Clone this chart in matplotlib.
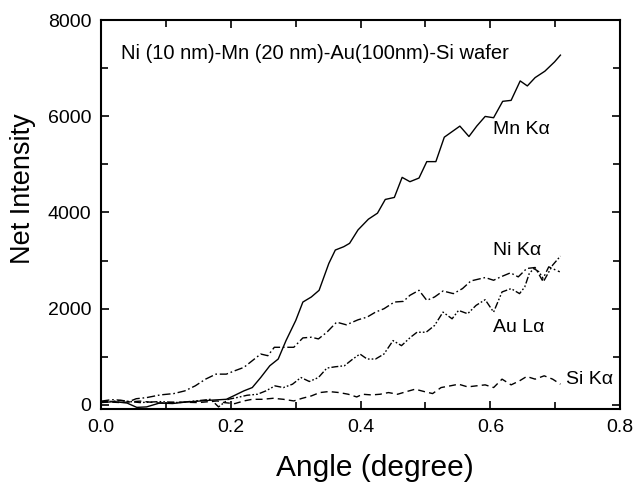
import matplotlib
matplotlib.use('Agg')
from matplotlib import pyplot as plt
from matplotlib.ticker import MultipleLocator

plt.rcParams['font.family'] = ['Liberation Sans', 'DejaVu Sans']

# Mn K-alpha (solid)
mn_x = [0.0, 0.02, 0.04, 0.055, 0.07, 0.09, 0.11, 0.13, 0.15, 0.17, 0.193, 0.204, 0.22,
        0.233, 0.246, 0.26, 0.273, 0.285, 0.3, 0.311, 0.324, 0.336, 0.351, 0.361, 0.374,
        0.383, 0.396, 0.412, 0.426, 0.438, 0.452, 0.464, 0.476, 0.49, 0.502, 0.516, 0.529,
        0.541, 0.553, 0.567, 0.579, 0.592, 0.605, 0.619, 0.632, 0.646, 0.657, 0.669, 0.684,
        0.699, 0.708]
mn_y = [50, 70, 40, -50, -40, 40, 30, 60, 80, 100, 118, 188, 293,
        362, 571, 815, 955, 1338, 1756, 2139, 2244, 2383, 2941, 3220, 3289,
        3359, 3638, 3861, 3986, 4271, 4313, 4730, 4640, 4716, 5057, 5057, 5565,
        5680, 5795, 5579, 5795, 5996, 5969, 6310, 6330, 6734, 6630, 6803, 6936,
        7130, 7270]

# Ni K-alpha (dash-dot)
ni_x = [0.0, 0.016, 0.03, 0.043, 0.054, 0.07, 0.091, 0.112, 0.129, 0.145, 0.161, 0.177,
        0.193, 0.206, 0.22, 0.233, 0.246, 0.257, 0.267, 0.281, 0.297, 0.311, 0.324, 0.335,
        0.348, 0.363, 0.378, 0.396, 0.41, 0.423, 0.436, 0.452, 0.466, 0.476, 0.49, 0.502,
        0.514, 0.527, 0.543, 0.557, 0.57, 0.592, 0.605, 0.616, 0.631, 0.643, 0.656, 0.669,
        0.68, 0.69, 0.699, 0.707]
ni_y = [80, 110, 100, 70, 130, 153, 209, 237, 293, 397, 537, 641,
        641, 711, 781, 920, 1059, 1024, 1199, 1199, 1199, 1394, 1408, 1373,
        1512, 1721, 1666, 1770, 1826, 1930, 2000, 2139, 2153, 2279, 2383, 2174,
        2244, 2369, 2314, 2418, 2578, 2648, 2592, 2662, 2746, 2662, 2836, 2857,
        2592, 2871, 2815, 2767]

# Au L-alpha (dash-dot-dot)
au_x = [0.0, 0.03, 0.06, 0.09, 0.12, 0.15, 0.169, 0.181, 0.196, 0.209, 0.225, 0.241,
        0.254, 0.268, 0.281, 0.295, 0.308, 0.321, 0.335, 0.348, 0.361, 0.375, 0.388,
        0.399, 0.41, 0.423, 0.436, 0.45, 0.463, 0.477, 0.487, 0.501, 0.514, 0.527, 0.541,
        0.551, 0.565, 0.578, 0.592, 0.605, 0.618, 0.632, 0.645, 0.653, 0.66, 0.667, 0.675,
        0.683, 0.696, 0.708]
au_y = [60, 90, 50, 70, 50, 90, 118, -40, 118, 153, 202, 223,
        293, 397, 362, 432, 571, 488, 571, 767, 794, 815, 955,
        1059, 955, 955, 1059, 1338, 1233, 1408, 1512, 1512, 1652, 1930, 1791,
        1965, 1896, 2070, 2188, 1930, 2349, 2418, 2314, 2453, 2732, 2836, 2767,
        2592, 2906, 3094]

# Si K-alpha (dashed)
si_x = [0.0, 0.03, 0.06, 0.09, 0.12, 0.15, 0.179, 0.19, 0.206, 0.22, 0.233, 0.249,
        0.265, 0.281, 0.297, 0.31, 0.324, 0.337, 0.351, 0.367, 0.381, 0.394, 0.403,
        0.417, 0.43, 0.443, 0.457, 0.471, 0.484, 0.498, 0.511, 0.524, 0.538, 0.551,
        0.565, 0.578, 0.592, 0.605, 0.618, 0.632, 0.645, 0.656, 0.669, 0.683, 0.696, 0.708]
si_y = [70, 50, 80, 40, 60, 50, 84, 49, 28, 84, 118, 118,
        139, 118, 84, 139, 188, 258, 279, 258, 223, 167, 223,
        209, 223, 258, 223, 279, 328, 279, 237, 362, 397, 432,
        376, 397, 418, 362, 537, 418, 502, 592, 537, 606, 537, 432]

labels = ['Mn K\u03b1', 'Ni K\u03b1', 'Au L\u03b1', 'Si K\u03b1']
title = 'Ni (10 nm)-Mn (20 nm)-Au(100nm)-Si wafer'

fig = plt.figure(figsize=(6.36, 4.82), dpi=100)
ax = fig.add_axes([0.159, 0.1515, 0.816, 0.807])

lw = 1.0
ax.plot(mn_x, mn_y, color='black', lw=lw, linestyle='-')
ax.plot(ni_x, ni_y, color='black', lw=lw, linestyle=(0, (6, 2, 1.2, 2)))
ax.plot(au_x, au_y, color='black', lw=lw, linestyle=(0, (5, 1.5, 1.2, 1.5, 1.2, 1.5)))
ax.plot(si_x, si_y, color='black', lw=lw, linestyle=(0, (5, 3)))

ax.set_xlim(0, 0.8)
ax.set_ylim(-83, 8000)
ax.xaxis.set_major_locator(MultipleLocator(0.2))
ax.xaxis.set_minor_locator(MultipleLocator(0.1))
ax.yaxis.set_major_locator(MultipleLocator(2000))
ax.yaxis.set_minor_locator(MultipleLocator(1000))
ax.tick_params(which='both', direction='in', top=True, right=True, width=1.2)
ax.tick_params(which='major', length=6, labelsize=14, pad=7)
ax.tick_params(which='minor', length=5)
for s in ax.spines.values():
    s.set_linewidth(1.5)

ax.set_xlabel('Angle (degree)', fontsize=21.5)
ax.xaxis.set_label_coords(0.528, -0.116)
ax.set_ylabel('Net Intensity', fontsize=19.5)
ax.yaxis.set_label_coords(-0.125, 0.566)

ax.text(0.031, 7300, title, fontsize=14.5, va='center', ha='left')
ax.text(0.604, 5720, labels[0], fontsize=14, va='center', ha='left')
ax.text(0.604, 3220, labels[1], fontsize=14, va='center', ha='left')
ax.text(0.604, 1617, labels[2], fontsize=14, va='center', ha='left')
ax.text(0.717, 537, labels[3], fontsize=14, va='center', ha='left')

fig.savefig('out.png', dpi=100)
